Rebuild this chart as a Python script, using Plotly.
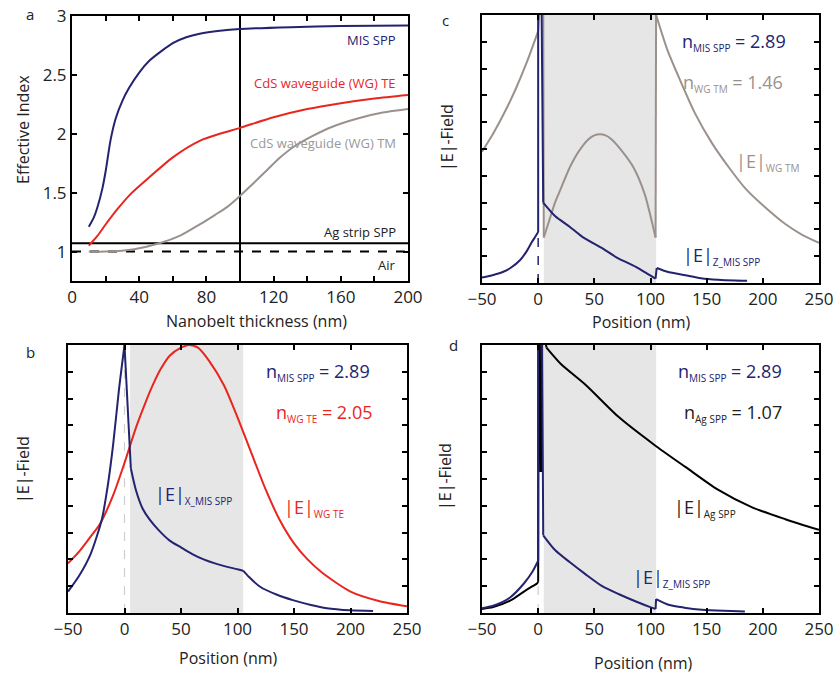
import plotly.graph_objects as go

# ---------------- Panel a : effective index vs thickness ----------------
thick_mis = [10, 13, 15, 18, 20, 23, 26, 30, 34, 40, 46, 53, 60, 68, 76, 88, 100, 130, 160, 200]
neff_mis = [1.21, 1.29, 1.37, 1.53, 1.68, 1.95, 2.13, 2.28, 2.39, 2.52, 2.62, 2.70, 2.77, 2.82, 2.85, 2.875, 2.89, 2.905, 2.915, 2.92]
thick_te = [10, 15, 20, 27, 35, 46, 60, 76, 88, 100, 120, 140, 160, 180, 200]
neff_te = [1.05, 1.13, 1.23, 1.36, 1.49, 1.63, 1.80, 1.94, 2.00, 2.05, 2.14, 2.21, 2.26, 2.30, 2.33]
thick_tm = [10, 20, 37, 52, 65, 76, 85, 92, 99, 108, 116, 124, 132, 143, 155, 170, 185, 200]
neff_tm = [1.00, 1.00, 1.02, 1.07, 1.14, 1.23, 1.31, 1.375, 1.46, 1.58, 1.69, 1.80, 1.89, 1.98, 2.06, 2.13, 2.18, 2.21]
ag_strip_index = 1.07
air_index = 1.00
chosen_thickness = 100
thick_span = [0, 200]
index_span = [0.75, 3]
a_xticks = [0, 20, 40, 60, 80, 100, 120, 140, 160, 180, 200]
a_xlabels = ["0", "", "40", "", "80", "", "120", "", "160", "", "200"]
a_yticks = [1, 1.5, 2, 2.5, 3]
a_ylabels = ["1", "1.5", "2", "2.5", "3"]

# ---------------- Panel b : MIS SPP (x) and WG TE -----------------------
b_spp_left_x = [-50, -40, -30, -20, -15, -10, -5, 0]
b_spp_left_y = [0.08, 0.14, 0.22, 0.35, 0.47, 0.63, 0.83, 1.0]
b_spp_drop_x = [0, 5.6]
b_spp_drop_y = [1.0, 0.54]
b_spp_core_x = [5.6, 10, 16, 22, 30, 40, 50, 60, 70, 80, 90, 100, 105]
b_spp_core_y = [0.54, 0.46, 0.39, 0.35, 0.31, 0.27, 0.245, 0.22, 0.20, 0.185, 0.173, 0.163, 0.158]
b_spp_right_x = [105, 110, 120, 135, 149, 165, 179, 200, 220]
b_spp_right_y = [0.158, 0.135, 0.098, 0.068, 0.048, 0.03, 0.018, 0.01, 0.007]
b_te_x = [-50, -40, -30, -22, -10, 0, 10, 19, 25, 32, 40, 50, 57, 65, 75, 88, 100, 112, 125, 137, 150, 162, 175, 200, 225, 250]
b_te_y = [0.185, 0.23, 0.285, 0.33, 0.44, 0.56, 0.69, 0.79, 0.85, 0.91, 0.96, 0.99, 1.0, 0.99, 0.94, 0.85, 0.73, 0.60, 0.46, 0.35, 0.26, 0.20, 0.15, 0.08, 0.045, 0.025]

# ---------------- Panel c : MIS SPP (z) and WG TM -----------------------
c_tm_left_x = [-50, -40, -30, -20, -10, 0]
c_tm_left_y = [0.49, 0.558, 0.636, 0.724, 0.825, 0.94]
c_tm_spike_x = [0, 1.5, 4.5, 5]
c_tm_spike_y = [0.94, 1.05, 1.05, 0.17]
c_tm_core_x = [5, 10, 15, 20, 28, 36, 45, 50, 55, 60, 65, 75, 85, 95, 100, 104.5]
c_tm_core_y = [0.17, 0.235, 0.30, 0.35, 0.43, 0.49, 0.537, 0.551, 0.555, 0.551, 0.537, 0.49, 0.43, 0.33, 0.25, 0.17]
c_tm_jump_x = [104.5, 105]
c_tm_jump_y = [0.17, 1.05]
c_tm_right_x = [105, 115, 125, 140, 155, 170, 185, 200, 220, 235, 250]
c_tm_right_y = [1.0, 0.87, 0.77, 0.63, 0.52, 0.43, 0.35, 0.29, 0.22, 0.18, 0.15]
c_spp_left_x = [-50, -40, -31, -25, -16, -10, -6, -3, 0]
c_spp_left_y = [0.02, 0.03, 0.042, 0.055, 0.086, 0.12, 0.15, 0.17, 0.19]
c_spp_spike_x = [0, 0, 3, 4.5]
c_spp_spike_y = [0.19, 1.05, 1.05, 0.30]
c_spp_core_x = [4.5, 15, 28, 40, 57.6, 70, 87, 97, 103, 104.5]
c_spp_core_y = [0.30, 0.25, 0.21, 0.17, 0.128, 0.095, 0.06, 0.035, 0.02, 0.016]
c_spp_jump_x = [104.5, 105.5]
c_spp_jump_y = [0.016, 0.056]
c_spp_right_x = [105.5, 115, 131, 145, 160, 175, 186]
c_spp_right_y = [0.056, 0.042, 0.029, 0.018, 0.012, 0.009, 0.008]
c_metal_edge_x = [0, 0]
c_metal_edge_y = [0, 0.19]

# ---------------- Panel d : MIS SPP (z) and Ag strip SPP ----------------
d_ag_left_x = [-50, -40, -25, -12.7, -5, -1, 0]
d_ag_left_y = [0.015, 0.022, 0.046, 0.08, 0.10, 0.11, 0.117]
d_ag_spike_x = [0, 0.3, 1.5, 2, 3, 3.5, 5, 7.4]
d_ag_spike_y = [0.117, 1.05, 1.05, 0.53, 0.53, 1.05, 1.05, 0.99]
d_ag_right_x = [7.4, 20, 42.6, 72, 103.5, 131, 160, 190, 220, 250]
d_ag_right_y = [0.99, 0.93, 0.85, 0.73, 0.627, 0.545, 0.46, 0.395, 0.35, 0.31]
d_spp_left_x = [-50, -40, -25, -12.7, -5, 0]
d_spp_left_y = [0.018, 0.027, 0.058, 0.11, 0.155, 0.195]
d_spp_spike_x = [0, 0, 3.5, 4.5]
d_spp_spike_y = [0.195, 1.05, 1.05, 0.29]
d_spp_core_x = [4.5, 15, 28, 42, 57, 72, 87, 101, 104.5]
d_spp_core_y = [0.29, 0.235, 0.19, 0.145, 0.10, 0.07, 0.043, 0.02, 0.015]
d_spp_jump_x = [104.5, 105]
d_spp_jump_y = [0.015, 0.052]
d_spp_right_x = [105, 116, 130, 145.6, 165, 184]
d_spp_right_y = [0.052, 0.031, 0.02, 0.012, 0.008, 0.006]
d_metal_edge_x = [0, 0]
d_metal_edge_y = [0, 0.11]

b_metal_edge_x = [0, 0]
b_metal_edge_y = [0, 1]

cds_belt = [5, 105]
pos_span = [-50, 250]
field_span = [0, 1]
pos_ticks = [-50, 0, 50, 100, 150, 200, 250]
field_ticks = [0.1, 0.2, 0.3, 0.4, 0.5, 0.6, 0.7, 0.8, 0.9]

NAVY = "#23236f"
RED = "#e8261e"
GREY = "#9b918c"
FONT = "Open Sans"

W, H = 835, 673


def dom_x(l, r):
    return [l / W, r / W]


def dom_y(t, b):
    return [1 - b / H, 1 - t / H]


fig = go.Figure()


def line(x, y, color, ax, shape="spline", dash="solid", width=2):
    ln = dict(color=color, width=width, shape=shape, dash=dash)
    if shape == "spline":
        ln["smoothing"] = 0.7
    fig.add_trace(go.Scatter(x=x, y=y, mode="lines", xaxis="x" + ax, yaxis="y" + ax,
                             line=ln, showlegend=False, hoverinfo="skip"))


# panel a
line(thick_span, [ag_strip_index] * 2, "black", "", "linear")
line(thick_span, [air_index] * 2, "black", "", "linear", dash="dash")
line([chosen_thickness] * 2, index_span, "black", "", "linear")
line(thick_tm, neff_tm, GREY, "")
line(thick_te, neff_te, RED, "")
line(thick_mis, neff_mis, NAVY, "")

# panel b
line(b_metal_edge_x, b_metal_edge_y, "#cfcfcf", "2", "linear", dash="dash", width=1.2)
line(b_te_x, b_te_y, RED, "2")
line(b_spp_left_x, b_spp_left_y, NAVY, "2")
line(b_spp_drop_x, b_spp_drop_y, NAVY, "2", "linear")
line(b_spp_core_x, b_spp_core_y, NAVY, "2")
line(b_spp_right_x, b_spp_right_y, NAVY, "2")

# panel c
line(c_metal_edge_x, c_metal_edge_y, NAVY, "3", "linear", dash="dash", width=1.5)
line(c_tm_left_x, c_tm_left_y, GREY, "3")
line(c_tm_spike_x, c_tm_spike_y, GREY, "3", "linear")
line(c_tm_core_x, c_tm_core_y, GREY, "3")
line(c_tm_jump_x, c_tm_jump_y, GREY, "3", "linear")
line(c_tm_right_x, c_tm_right_y, GREY, "3")
line(c_spp_left_x, c_spp_left_y, NAVY, "3")
line(c_spp_spike_x, c_spp_spike_y, NAVY, "3", "linear")
line(c_spp_core_x, c_spp_core_y, NAVY, "3")
line(c_spp_jump_x, c_spp_jump_y, NAVY, "3", "linear")
line(c_spp_right_x, c_spp_right_y, NAVY, "3")

# panel d
line(d_metal_edge_x, d_metal_edge_y, "#cfcfcf", "4", "linear", dash="dash", width=1.2)
line(d_ag_left_x, d_ag_left_y, "black", "4")
line(d_ag_spike_x, d_ag_spike_y, "black", "4", "linear")
line(d_ag_right_x, d_ag_right_y, "black", "4")
line(d_spp_left_x, d_spp_left_y, NAVY, "4")
line(d_spp_spike_x, d_spp_spike_y, NAVY, "4", "linear")
line(d_spp_core_x, d_spp_core_y, NAVY, "4")
line(d_spp_jump_x, d_spp_jump_y, NAVY, "4", "linear")
line(d_spp_right_x, d_spp_right_y, NAVY, "4")

axis_common = dict(showline=True, linecolor="black", linewidth=2, mirror="ticks",
                   ticks="inside", ticklen=5, tickwidth=1.5, tickcolor="black",
                   showgrid=False, zeroline=False, automargin=False,
                   tickfont=dict(family=FONT, size=17, color="#222"))

layout = dict(width=W, height=H, margin=dict(l=0, r=0, t=0, b=0, autoexpand=False),
              paper_bgcolor="white", plot_bgcolor="white", showlegend=False,
              font=dict(family=FONT, color="#222"))

layout["xaxis"] = dict(axis_common, domain=dom_x(72, 408), range=thick_span, anchor="y",
                       tickvals=a_xticks, ticktext=a_xlabels)
layout["yaxis"] = dict(axis_common, domain=dom_y(16, 281), range=index_span, anchor="x",
                       tickvals=a_yticks, ticktext=a_ylabels)
panels = {"2": (68, 407, 345, 613), "3": (482, 819, 15, 283), "4": (482, 819, 345, 613)}
for k, (l, r, t, b) in panels.items():
    layout["xaxis" + k] = dict(axis_common, domain=dom_x(l, r), range=pos_span, anchor="y" + k,
                               tickvals=pos_ticks)
    layout["yaxis" + k] = dict(axis_common, domain=dom_y(t, b), range=field_span, anchor="x" + k,
                               tickvals=field_ticks, showticklabels=False)

shapes = []
for k in ["2", "3", "4"]:
    shapes.append(dict(type="rect", xref="x" + k, yref="y" + k + " domain", x0=cds_belt[0], x1=cds_belt[1],
                       y0=0, y1=1, fillcolor="#e6e6e6", line=dict(width=0), layer="below"))
layout["shapes"] = shapes

ann = []


def txt(text, x, y, ax, color, size, xanchor="left", yanchor="middle", angle=0):
    d = dict(text=text, x=x, y=y, showarrow=False, xanchor=xanchor, yanchor=yanchor,
             font=dict(family=FONT, size=size, color=color), textangle=angle)
    if ax is None:
        d.update(xref="paper", yref="paper")
    else:
        d.update(xref="x" + ax, yref="y" + ax)
    ann.append(d)


def sub(s):
    return '<sub><span style="font-size:10px">' + s + '</span></sub>'


# panel a labels
txt("MIS SPP", 194, 2.80, "", NAVY, 13, "right")
txt("CdS waveguide (WG) TE", 194, 2.43, "", RED, 13, "right")
txt("CdS waveguide (WG) TM", 194, 1.92, "", "#999", 13, "right")
txt("Ag strip SPP", 194, 1.17, "", "#222", 13, "right")
txt("Air", 194, 0.89, "", "#222", 13, "right")

# panel b labels
txt("n" + sub("MIS SPP") + " = 2.89", 219, 0.90, "2", NAVY, 18, "right")
txt("n" + sub("WG TE") + " = 2.05", 221, 0.745, "2", RED, 18, "right")
txt("|E|" + sub("X_MIS SPP"), 25, 0.44, "2", NAVY, 18)
txt("|E|" + sub("WG TE"), 139, 0.39, "2", RED, 18)

# panel c labels
txt("n" + sub("MIS SPP") + " = 2.89", 222, 0.90, "3", NAVY, 18, "right")
txt("n" + sub("WG TM") + " = 1.46", 220, 0.745, "3", GREY, 18, "right")
txt("|E|" + sub("WG TM"), 174, 0.45, "3", GREY, 18)
txt("|E|" + sub("Z_MIS SPP"), 127, 0.10, "3", NAVY, 18)

# panel d labels
txt("n" + sub("MIS SPP") + " = 2.89", 219, 0.90, "4", NAVY, 18, "right")
txt("n" + sub("Ag SPP") + " = 1.07", 219, 0.745, "4", "#222", 18, "right")
txt("|E|" + sub("Ag SPP"), 119, 0.39, "4", "#222", 18)
txt("|E|" + sub("Z_MIS SPP"), 83, 0.13, "4", NAVY, 18)


# axis titles and panel letters (paper coords)
def px(x):
    return x / W


def py(y):
    return 1 - y / H


txt("Effective Index", px(23), py(130), None, "#222", 16, "center", "middle", -90)
txt("Nanobelt thickness (nm)", px(256), py(321), None, "#222", 16, "center")
txt("|E|-Field", px(23), py(470), None, "#222", 16, "center", "middle", -90)
txt("Position (nm)", px(228), py(658), None, "#222", 16, "center")
txt("|E|-Field", px(447), py(138), None, "#222", 16, "center", "middle", -90)
txt("Position (nm)", px(641), py(322), None, "#222", 16, "center")
txt("|E|-Field", px(445), py(477), None, "#222", 16, "center", "middle", -90)
txt("Position (nm)", px(643), py(663), None, "#222", 16, "center")
txt("a", px(30), py(14), None, "#222", 15, "center")
txt("b", px(30), py(352), None, "#222", 15, "center")
txt("c", px(445), py(20), None, "#222", 15, "center")
txt("d", px(453), py(345), None, "#222", 15, "center")

layout["annotations"] = ann
fig.update_layout(**layout)
fig.write_html("out.html", config={"displayModeBar": False},
               post_script="document.body.style.margin='0';document.body.style.overflow='hidden';")
